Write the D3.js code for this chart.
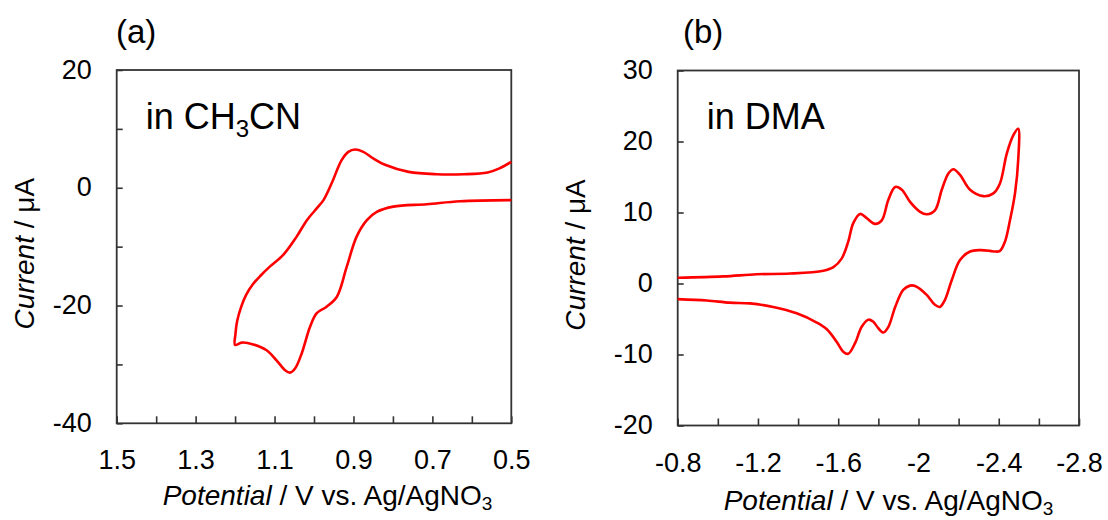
<!DOCTYPE html>
<html>
<head>
<meta charset="utf-8">
<script src="https://cdn.jsdelivr.net/npm/d3@7"></script>
<style>
  body { margin: 0; background: #fff; }
  text { font-family: "Liberation Sans", Arial, sans-serif; fill: #000; }
</style>
</head>
<body>
<svg id="chart" width="1108" height="520"></svg>
<script>
// panel (a): CH3CN, potential (V) and current (uA) along the sweep
const potentialA = [0.50, 0.53, 0.56, 0.62, 0.69, 0.76, 0.82, 0.85, 0.875, 0.896, 0.913, 0.93, 0.955, 0.976, 0.993, 1.018, 1.044, 1.078, 1.112, 1.135, 1.155, 1.172, 1.185, 1.195, 1.199, 1.20,
  1.183, 1.154, 1.12, 1.095, 1.073, 1.061, 1.048, 1.031, 1.01, 0.993, 0.968, 0.942, 0.917, 0.892, 0.866, 0.841, 0.799, 0.714, 0.63, 0.50];
const currentA = [4.4, 3.3, 2.6, 2.3, 2.3, 2.7, 3.9, 5.0, 6.1, 6.5, 6.1, 4.7, 0.8, -2.1, -3.5, -5.5, -8.3, -11.4, -13.4, -14.9, -16.4, -18.2, -20.3, -22.7, -24.8, -26.7,
  -26.3, -26.6, -27.6, -29.3, -31.0, -31.4, -30.7, -28.1, -23.6, -21.3, -20.2, -18.5, -13.4, -8.3, -5.5, -4.1, -3.2, -2.8, -2.3, -2.1];

// panel (b): DMA
const potentialB = [-0.8, -1.027, -1.194, -1.36, -1.526, -1.576, -1.617, -1.65, -1.675, -1.709, -1.742, -1.783, -1.817, -1.85, -1.884, -1.917, -1.958, -2.008, -2.041, -2.082, -2.116, -2.149, -2.174, -2.207, -2.257, -2.323, -2.373, -2.406, -2.44, -2.473, -2.497,
  -2.497, -2.481, -2.456, -2.431, -2.406, -2.381, -2.357, -2.307, -2.257, -2.207, -2.166, -2.132, -2.107, -2.082, -2.041, -1.983, -1.958, -1.924, -1.884, -1.85, -1.825, -1.80, -1.775, -1.75, -1.717, -1.684, -1.65, -1.625, -1.592, -1.543, -1.493, -1.393, -1.276, -1.16, -1.06, -0.945, -0.8];
const currentB = [0.8, 1.0, 1.3, 1.4, 1.8, 2.3, 3.5, 5.9, 8.5, 9.8, 9.2, 8.4, 8.9, 11.8, 13.6, 13.2, 11.5, 10.1, 9.75, 10.3, 13.2, 15.5, 16.1, 15.3, 13.2, 12.3, 12.7, 14.1, 18.3, 20.9, 21.8,
  17.4, 12.7, 8.9, 5.9, 4.6, 4.5, 4.6, 4.7, 4.5, 3.3, 0.5, -2.3, -3.3, -3.0, -1.6, -0.35, -0.3, -0.9, -3.3, -6.1, -6.9, -6.3, -5.4, -5.1, -6.1, -8.4, -9.9, -9.6, -8.2, -6.45, -5.5, -4.2, -3.3, -2.8, -2.7, -2.4, -2.2];

// ticks and labels
const xTicksA = [1.5, 1.4, 1.3, 1.2, 1.1, 1.0, 0.9, 0.8, 0.7, 0.6, 0.5];
const xLabelsA = ["1.5", "", "1.3", "", "1.1", "", "0.9", "", "0.7", "", "0.5"];
const yTicksA = [-40, -30, -20, -10, 0, 10, 20];
const yLabelsA = ["-40", "", "-20", "", "0", "", "20"];
const xTicksB = [-0.8, -1.0, -1.2, -1.4, -1.6, -1.8, -2.0, -2.2, -2.4, -2.6, -2.8];
const xLabelsB = ["-0.8", "", "-1.2", "", "-1.6", "", "-2", "", "-2.4", "", "-2.8"];
const yTicksB = [-20, -10, 0, 10, 20, 30];
const yLabelsB = ["-20", "-10", "0", "10", "20", "30"];

const svg = d3.select("#chart");

function panel(opt) {
  const x = d3.scaleLinear().domain(opt.xDomain).range([opt.left, opt.right]);
  const y = d3.scaleLinear().domain(opt.yDomain).range([opt.bottom, opt.top]);

  const xAxis = d3.axisBottom(x)
    .tickValues(opt.xTicks)
    .tickSize(-7)
    .tickPadding(27)
    .tickFormat((d, i) => opt.xLabels[i]);
  const yAxis = d3.axisLeft(y)
    .tickValues(opt.yTicks)
    .tickSize(-6)
    .tickPadding(25)
    .tickFormat((d, i) => opt.yLabels[i]);

  const gx = svg.append("g")
    .attr("transform", `translate(0, ${opt.bottom})`)
    .call(xAxis);
  const gy = svg.append("g")
    .attr("transform", `translate(${opt.left}, 0)`)
    .call(yAxis);

  [gx, gy].forEach(g => {
    g.select(".domain").remove();
    g.selectAll("line").attr("stroke", "#333").attr("stroke-width", 1.6);
    g.selectAll("text")
      .style("font-size", "27px")
      .style("font-family", "'Liberation Sans', Arial, sans-serif")
      .attr("fill", "#000");
  });
  gy.selectAll("text").attr("dy", "0.30em");

  svg.append("rect")
    .attr("x", opt.left)
    .attr("y", opt.top)
    .attr("width", opt.right - opt.left)
    .attr("height", opt.bottom - opt.top)
    .attr("fill", "none")
    .attr("stroke", "#333")
    .attr("stroke-width", 1.8);

  const line = d3.line()
    .x(d => x(d[0]))
    .y(d => y(d[1]))
    .curve(d3.curveCatmullRom.alpha(0.5));

  svg.append("path")
    .datum(d3.zip(opt.potential, opt.current))
    .attr("d", line)
    .attr("fill", "none")
    .attr("stroke", "#ff0000")
    .attr("stroke-width", 2.6)
    .attr("stroke-linejoin", "round");

  // panel letter
  svg.append("text")
    .attr("x", opt.letterX)
    .attr("y", 43)
    .style("font-size", "33px")
    .text(opt.letter);

  // solvent label
  const lab = svg.append("text")
    .attr("x", opt.left + 29)
    .attr("y", 129)
    .style("font-size", "36px");
  opt.solvent(lab);

  // y title
  const yt = svg.append("text")
    .attr("transform", `translate(${opt.yTitleX}, ${(opt.top + opt.bottom) / 2 + 7}) rotate(-90)`)
    .attr("text-anchor", "middle")
    .style("font-size", "28px");
  yt.append("tspan").style("font-style", "italic").text("Current");
  yt.append("tspan").text(" / μA");

  // x title
  const xt = svg.append("text")
    .attr("x", opt.left + 46)
    .attr("y", opt.xTitleY)
    .style("font-size", "28px");
  xt.append("tspan").style("font-style", "italic").text("Potential");
  xt.append("tspan").text(" / V vs. Ag/AgNO");
  xt.append("tspan").attr("dy", 5).style("font-size", "19px").text("3");
}

panel({
  left: 116.7, right: 511.3, top: 70, bottom: 423.3,
  xDomain: [1.5, 0.5], yDomain: [-40, 20],
  xTicks: xTicksA, xLabels: xLabelsA, yTicks: yTicksA, yLabels: yLabelsA,
  potential: potentialA, current: currentA,
  letter: "(a)", letterX: 116,
  yTitleX: 34, xTitleY: 505,
  solvent: t => {
    t.append("tspan").text("in CH");
    t.append("tspan").attr("dy", 8).style("font-size", "24px").text("3");
    t.append("tspan").attr("dy", -8).text("CN");
  }
});

panel({
  left: 677.7, right: 1079, top: 70.5, bottom: 425.5,
  xDomain: [-0.8, -2.8], yDomain: [-20, 30],
  xTicks: xTicksB, xLabels: xLabelsB, yTicks: yTicksB, yLabels: yLabelsB,
  potential: potentialB, current: currentB,
  letter: "(b)", letterX: 683,
  yTitleX: 585, xTitleY: 510,
  solvent: t => t.text("in DMA")
});
</script>
</body>
</html>
